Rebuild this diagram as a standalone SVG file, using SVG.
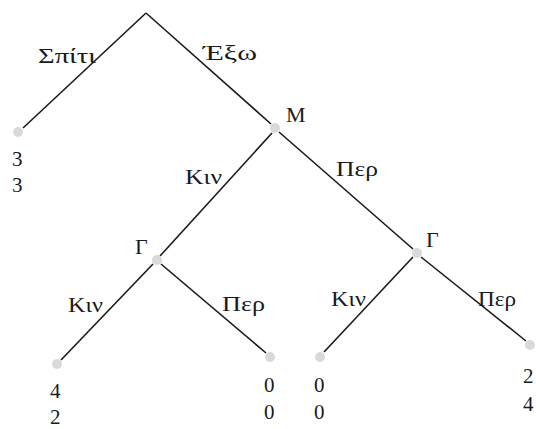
<svg xmlns="http://www.w3.org/2000/svg" width="536" height="429" viewBox="0 0 536 429">
<style>
.e{stroke:#1a1a1a;stroke-width:1.6;fill:none}
.d{fill:#d9d9d9}
text{font-family:"Liberation Serif","DejaVu Serif",serif;font-size:21px;fill:#1a1a1a}
.n{font-size:22px}
</style>
<rect width="536" height="429" fill="#fff"/>
<g id="connectors">
<line class="e" x1="146" y1="13" x2="23" y2="128"/>
<line class="e" x1="146" y1="13" x2="271" y2="124"/>
<line class="e" x1="272" y1="133" x2="160" y2="256"/>
<line class="e" x1="279" y1="132" x2="413" y2="249"/>
<line class="e" x1="153" y1="264" x2="61" y2="360"/>
<line class="e" x1="161" y1="264" x2="266" y2="353"/>
<line class="e" x1="413" y1="257" x2="324" y2="352"/>
<line class="e" x1="421" y1="257" x2="526" y2="341"/>
<text x="38" y="63" textLength="58" lengthAdjust="spacingAndGlyphs">Σπίτι</text>
<text x="203" y="60" textLength="54" lengthAdjust="spacingAndGlyphs">Έξω</text>
<text x="185" y="184" textLength="37" lengthAdjust="spacingAndGlyphs">Κιν</text>
<text x="336" y="176" textLength="42" lengthAdjust="spacingAndGlyphs">Περ</text>
<text x="68" y="312" textLength="35" lengthAdjust="spacingAndGlyphs">Κιν</text>
<text x="222" y="311" textLength="43" lengthAdjust="spacingAndGlyphs">Περ</text>
<text x="331" y="306" textLength="35" lengthAdjust="spacingAndGlyphs">Κιν</text>
<text x="478" y="306" textLength="38" lengthAdjust="spacingAndGlyphs">Περ</text>
</g>
<g id="leaf1"><circle class="d" cx="18" cy="132" r="5"/><text x="12" y="166">3</text><text x="12" y="192">3</text></g>
<g id="M"><circle class="d" cx="275" cy="128" r="5"/><text class="n" x="286" y="122">M</text></g>
<g id="G1"><circle class="d" cx="157" cy="260" r="5"/><text class="n" x="135" y="254">Γ</text></g>
<g id="G2"><circle class="d" cx="417" cy="253" r="5"/><text class="n" x="426" y="247">Γ</text></g>
<g id="leaf2"><circle class="d" cx="57" cy="364" r="5"/><text x="50" y="398">4</text><text x="50" y="424">2</text></g>
<g id="leaf3"><circle class="d" cx="270" cy="357" r="5"/><text x="264" y="392">0</text><text x="264" y="419">0</text></g>
<g id="leaf4"><circle class="d" cx="320" cy="357" r="5"/><text x="314" y="392">0</text><text x="314" y="419">0</text></g>
<g id="leaf5"><circle class="d" cx="530" cy="345" r="5"/><text x="523" y="383">2</text><text x="523" y="411">4</text></g>
</svg>
